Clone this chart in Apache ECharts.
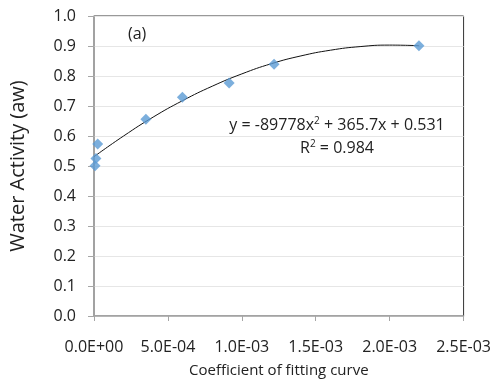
<!DOCTYPE html>
<html>
<head>
<meta charset="utf-8">
<script src="https://cdn.jsdelivr.net/npm/echarts@6/dist/echarts.min.js"></script>
<style>
  html, body { margin: 0; padding: 0; background: #fff; }
  #chart { width: 494px; height: 385px; }
</style>
</head>
<body>
<div id="chart"></div>
<script>
// measured points (coefficient, water activity)
const coefX = [0.000007, 0.000013, 0.000025, 0.000351, 0.000598, 0.000914, 0.001218, 0.002198];
const awY = [0.501, 0.525, 0.573, 0.656, 0.729, 0.777, 0.839, 0.901];

// trend line
const trendX = [0, 0.0002, 0.0004, 0.0006, 0.0008, 0.0010, 0.0012, 0.0014, 0.0016, 0.0018, 0.0020, 0.0022];
const trendY = [0.531, 0.600, 0.663, 0.718, 0.766, 0.807, 0.841, 0.867, 0.886, 0.898, 0.903, 0.901];

const xTicks = [0, 0.0005, 0.001, 0.0015, 0.002, 0.0025];

const font = 'Open Sans';

function sci(v) {
  if (v === 0) return '0.0E+00';
  let e = Math.floor(Math.log10(Math.abs(v)) + 1e-9);
  let m = v / Math.pow(10, e);
  let sign = e < 0 ? '-' : '+';
  let ae = Math.abs(e);
  return m.toFixed(1) + 'E' + sign + (ae < 10 ? '0' + ae : ae);
}

const mychart = echarts.init(document.getElementById('chart'));
const option = {
  animation: false,
  grid: {
    left: 92, right: 30, top: 16, bottom: 69,
    show: true,
    borderColor: '#333',
    borderWidth: 1
  },
  xAxis: {
    type: 'value',
    min: xTicks[0],
    max: xTicks[xTicks.length - 1],
    interval: 0.0005,
    name: 'Coefficient of fitting curve',
    nameLocation: 'middle',
    nameGap: 47,
    nameTextStyle: { fontFamily: font, fontSize: 15, color: '#222' },
    axisLine: { show: true, lineStyle: { color: '#a6a6a6', width: 1.5 } },
    axisTick: { show: true, inside: false, length: 5, lineStyle: { color: '#a6a6a6' } },
    axisLabel: { margin: 23, fontFamily: font, fontSize: 16, color: '#222', formatter: sci },
    splitLine: { show: false }
  },
  yAxis: {
    type: 'value',
    min: 0,
    max: 1,
    interval: 0.1,
    name: 'Water Activity (aw)',
    nameLocation: 'middle',
    nameGap: 66,
    nameTextStyle: { fontFamily: font, fontSize: 20, color: '#222' },
    axisLine: { show: true, lineStyle: { color: '#a6a6a6', width: 1.5 } },
    axisTick: { show: true, inside: false, length: 6, lineStyle: { color: '#a6a6a6' } },
    axisLabel: { margin: 18, fontFamily: font, fontSize: 16, color: '#222', formatter: v => v.toFixed(1) },
    splitLine: { show: true, lineStyle: { color: '#e6e6e6', width: 1 } }
  },
  graphic: [
    { type: 'text', left: 128, top: 26, style: { text: '(a)', fontFamily: font, fontSize: 16, fill: '#222' } },
    {
      type: 'text', x: 337, y: 125,
      style: {
        text: '{n|y = -89778x}{s|2}{n| + 365.7x + 0.531}',
        align: 'center', verticalAlign: 'middle',
        rich: {
          n: { fontFamily: font, fontSize: 16, fill: '#222' },
          s: { fontFamily: font, fontSize: 10, fill: '#222', verticalAlign: 'top', padding: [0, 0, 8, 0] }
        }
      }
    },
    {
      type: 'text', x: 337, y: 148,
      style: {
        text: '{n|R}{s|2}{n| = 0.984}',
        align: 'center', verticalAlign: 'middle',
        rich: {
          n: { fontFamily: font, fontSize: 16, fill: '#222' },
          s: { fontFamily: font, fontSize: 10, fill: '#222', verticalAlign: 'top', padding: [0, 0, 8, 0] }
        }
      }
    }
  ],
  series: [
    {
      type: 'line',
      data: trendX.map((x, i) => [x, trendY[i]]),
      smooth: true,
      showSymbol: false,
      symbol: 'none',
      lineStyle: { color: '#111', width: 1 },
      z: 2
    },
    {
      type: 'scatter',
      data: coefX.map((x, i) => [x, awY[i]]),
      symbol: 'diamond',
      symbolSize: [11, 11],
      itemStyle: { color: '#5b9bd5' },
      z: 3
    }
  ]
};
mychart.setOption(option);
window.addEventListener('resize', function () { mychart.resize(); });
</script>
</body>
</html>
